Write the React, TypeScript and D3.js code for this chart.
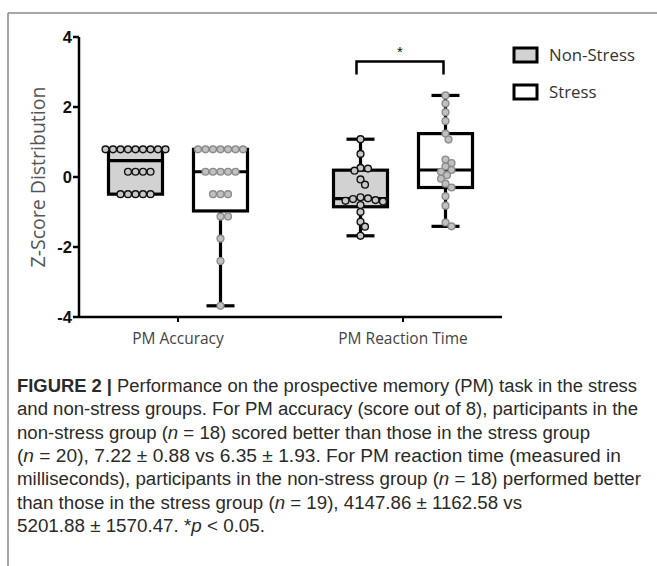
import React from 'react'
import * as d3 from 'd3'

const categories = ['PM Accuracy', 'PM Reaction Time']
const groups = ['Non-Stress', 'Stress']
const yTicks = [-4, -2, 0, 2, 4]

// z-scores
const accNonStress = [0.79, 0.79, 0.79, 0.79, 0.79, 0.79, 0.79, 0.79, 0.79, 0.15, 0.15, 0.15, 0.15, -0.49, -0.49, -0.49, -0.49, -0.49]
const accStress = [0.79, 0.79, 0.79, 0.79, 0.79, 0.79, 0.79, 0.15, 0.15, 0.15, 0.15, 0.15, -0.49, -0.49, -0.49, -1.13, -1.13, -1.76, -2.40, -3.68]
const rtNonStress = [1.08, 0.66, 0.26, 0.24, 0.18, -0.07, -0.22, -0.58, -0.61, -0.63, -0.66, -0.68, -0.7, -0.8, -1.0, -1.28, -1.42, -1.68]
const rtStress = [2.33, 2.1, 1.85, 1.6, 1.24, 1.07, 0.5, 0.4, 0.3, 0.2, 0.15, 0.05, -0.05, -0.19, -0.3, -0.55, -0.82, -1.3, -1.41]

const seriesData = [
  [accNonStress, accStress],
  [rtNonStress, rtStress],
]

const captionLines = [
  [['b', 'FIGURE 2 | '], ['', 'Performance on the prospective memory (PM) task in the stress']],
  [['', 'and non-stress groups. For PM accuracy (score out of 8), participants in the']],
  [['', 'non-stress group ('], ['i', 'n'], ['', ' = 18) scored better than those in the stress group']],
  [['', '('], ['i', 'n'], ['', ' = 20), 7.22 \u00b1 0.88 vs 6.35 \u00b1 1.93. For PM reaction time (measured in']],
  [['', 'milliseconds), participants in the non-stress group ('], ['i', 'n'], ['', ' = 18) performed better']],
  [['', 'than those in the stress group ('], ['i', 'n'], ['', ' = 19), 4147.86 \u00b1 1162.58 vs']],
  [['', '5201.88 \u00b1 1570.47. *'], ['i', 'p'], ['', ' < 0.05.']],
]
const captionEnds = [637, 638, 590, 621, 641, 522, 265]

// prism style quartiles, position (n+1)p
function quart(sorted: number[], p: number) {
  const n = sorted.length
  const pos = (n + 1) * p
  const lo = Math.floor(pos)
  if (lo < 1) return sorted[0]
  if (lo >= n) return sorted[n - 1]
  return sorted[lo - 1] + (pos - lo) * (sorted[lo] - sorted[lo - 1])
}

function dodge(vals: number[], y: (v: number) => number, sep: number) {
  const placed: { x: number; y: number }[] = []
  const order = vals.map((v, i) => i).sort((a, b) => vals[b] - vals[a])
  const out: { x: number; y: number }[] = new Array(vals.length)
  order.forEach((i) => {
    const py = y(vals[i])
    for (let k = 0; k < 80; k++) {
      const off = k === 0 ? 0 : (k % 2 ? 1 : -1) * Math.ceil(k / 2) * 1.5
      const ok = placed.every((p) => Math.hypot(p.x - off, p.y - py) >= sep)
      if (ok) {
        placed.push({ x: off, y: py })
        out[i] = { x: off, y: py }
        break
      }
    }
  })
  return out
}

export default function App() {
  const W = 657, H = 566
  const y = d3.scaleLinear().domain([-4, 4]).range([317, 37])
  const x = d3.scalePoint<string>().domain(categories).range([79, 502]).padding(0.44)
  const sub = d3.scaleOrdinal<string, number>().domain(groups).range([-42.5, 42.5])
  const boxW = 54, capW = 28

  const fills = ['#d2d2d2', '#ffffff']
  const dotFill = ['#c8c8c8', '#c0c0c0']
  const dotStroke = ['#111111', '#8c8c8c']

  const boxes: any[] = []
  categories.forEach((c, ci) => {
    groups.forEach((g, gi) => {
      const vals = seriesData[ci][gi]
      const s = [...vals].sort((a, b) => a - b)
      boxes.push({
        cx: (x(c) as number) + (sub(g) as number),
        gi,
        min: s[0], max: s[s.length - 1],
        q1: quart(s, 0.25), q3: quart(s, 0.75), med: d3.median(s) as number,
        pts: dodge(vals, y, 6.5),
      })
    })
  })

  const bx1 = boxes[2].cx - 4
  const bx2 = boxes[3].cx - 2

  return (
    <svg width={W} height={H} style={{ position: 'absolute', left: 0, top: 0, background: '#fff' }}>
      {/* frame */}
      <line x1={8} x2={W} y1={13} y2={13} stroke="#8a8a8a" strokeWidth={1.5} />
      <line x1={8} x2={8} y1={13} y2={H} stroke="#8a8a8a" strokeWidth={1.5} />

      {/* y axis */}
      <line x1={79} x2={79} y1={y(4)} y2={y(-4)} stroke="#000" strokeWidth={2.5} />
      {yTicks.map((t) => (
        <g key={t}>
          <line x1={73} x2={79} y1={y(t)} y2={y(t)} stroke="#000" strokeWidth={2.5} />
          <text x={72} y={y(t)} dy="0.36em" textAnchor="end" fontFamily="Liberation Sans, Arial" fontWeight="bold" fontSize={16.5} fill="#111">
            {String(t)}
          </text>
        </g>
      ))}
      <text transform={`translate(45,${y(0)}) rotate(-90)`} textAnchor="middle" fontFamily="Open Sans" fontSize={19.5} fill="#555">
        Z-Score Distribution
      </text>

      {/* x axis */}
      <line x1={79} x2={502} y1={y(-4)} y2={y(-4)} stroke="#000" strokeWidth={2.5} />
      {categories.map((c) => (
        <g key={c}>
          <line x1={x(c)} x2={x(c)} y1={y(-4)} y2={y(-4) + 5} stroke="#000" strokeWidth={2} />
          <text x={x(c)} y={344} textAnchor="middle" fontFamily="Open Sans" fontSize={15.5} fill="#444">{c}</text>
        </g>
      ))}

      {/* boxes */}
      {boxes.map((b, i) => (
        <g key={i}>
          <line x1={b.cx} x2={b.cx} y1={y(b.max)} y2={y(b.q3)} stroke="#000" strokeWidth={3.2} />
          <line x1={b.cx} x2={b.cx} y1={y(b.q1)} y2={y(b.min)} stroke="#000" strokeWidth={3.2} />
          <line x1={b.cx - capW / 2} x2={b.cx + capW / 2} y1={y(b.max)} y2={y(b.max)} stroke="#000" strokeWidth={3.2} />
          <line x1={b.cx - capW / 2} x2={b.cx + capW / 2} y1={y(b.min)} y2={y(b.min)} stroke="#000" strokeWidth={3.2} />
          <rect x={b.cx - boxW / 2} y={y(b.q3)} width={boxW} height={y(b.q1) - y(b.q3)} fill={fills[b.gi]} stroke="#000" strokeWidth={3.2} />
          <line x1={b.cx - boxW / 2} x2={b.cx + boxW / 2} y1={y(b.med)} y2={y(b.med)} stroke="#000" strokeWidth={3.2} />
          {b.pts.map((p: any, j: number) => (
            <circle key={j} cx={b.cx + p.x} cy={p.y} r={3.4} fill={dotFill[b.gi]} stroke={dotStroke[b.gi]} strokeWidth={1.4} />
          ))}
        </g>
      ))}

      {/* significance */}
      <path d={`M${bx1},${y(2.93)}V${y(3.3)}H${bx2}V${y(2.93)}`} fill="none" stroke="#000" strokeWidth={2.5} />
      <text x={(bx1 + bx2) / 2} y={y(3.3) - 5} textAnchor="middle" fontFamily="Liberation Sans, Arial" fontSize={15} fill="#111">*</text>

      {/* legend */}
      {groups.map((g, i) => (
        <g key={g} transform={`translate(514,${48 + i * 37})`}>
          <rect x={0} y={0} width={23} height={14} fill={fills[i]} stroke="#000" strokeWidth={3} />
          <text x={35} y={13} fontFamily="Open Sans" fontSize={16.8} fill="#333">{g}</text>
        </g>
      ))}

      {/* caption */}
      {captionLines.map((line, li) => (
        <text key={li} x={17} y={392 + li * 23.3} fontFamily="Liberation Sans, Arial" fontSize={18} fill="#2a2a2a"
          textLength={captionEnds[li] - 17} lengthAdjust="spacingAndGlyphs">
          {line.map((seg, si) => (
            <tspan key={si} fontWeight={seg[0] === 'b' ? 'bold' : 'normal'} fontStyle={seg[0] === 'i' ? 'italic' : 'normal'}>{seg[1]}</tspan>
          ))}
        </text>
      ))}
    </svg>
  )
}
